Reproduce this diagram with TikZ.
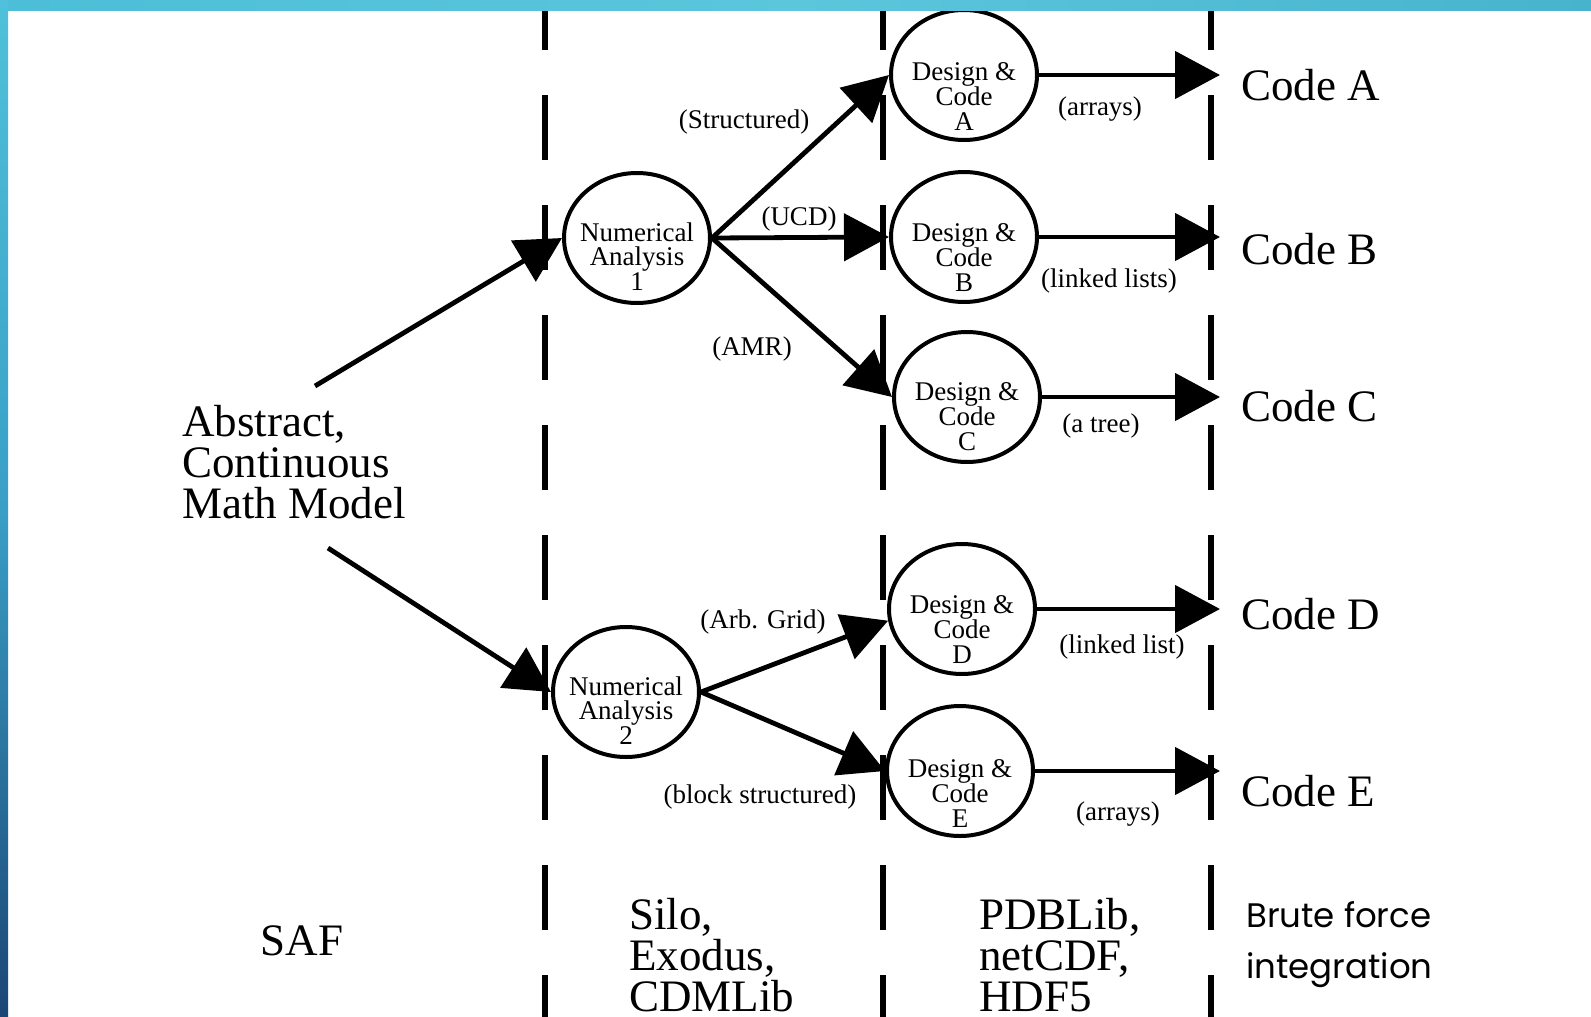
\documentclass[tikz,border=0pt]{standalone}
\usepackage{fontspec}
\setmainfont{Liberation Serif}
\newfontfamily\gothic{Poppins}
\usetikzlibrary{arrows.meta,shapes.geometric}
\definecolor{topL}{HTML}{4DBED8}
\definecolor{topM}{HTML}{5BC6DC}
\definecolor{topR}{HTML}{48B3CD}
\definecolor{sideT}{HTML}{4FC1DA}
\definecolor{sideM}{HTML}{3A9FC6}
\definecolor{sideB}{HTML}{1B4676}
\newcommand\mlines[2]{\parbox[t]{#1}{#2}}
\begin{document}
\begin{tikzpicture}[x=1pt,y=-1pt,
  bubble/.style={ellipse,draw,line width=4pt,minimum width=146pt,minimum height=130pt,inner sep=0pt},
  btext/.style={anchor=base,inner sep=0pt,font=\fontsize{27}{24.5}\selectfont},
  elabel/.style={anchor=base,inner sep=0pt,font=\fontsize{27}{30}\selectfont},
  bigtext/.style={inner sep=0pt,font=\fontsize{45}{41}\selectfont},
  conn/.style={line width=4.8pt,-{Triangle[length=45pt,width=47pt]}},
  sepline/.style={line width=6pt,dash pattern=on 65pt off 45pt}]
\useasboundingbox (0,0) rectangle (1591,1017);
\fill[white] (0,0) rectangle (1591,1017);

% dashed separators
\draw[sepline] (545,-15) -- (545,1030);
\draw[sepline] (883,-15) -- (883,1030);
\draw[sepline] (1211,-15) -- (1211,1030);

% ellipses
\node[bubble] (NA1) at (637,238) {};
\node[bubble] (NA2) at (626,692) {};
\node[bubble] (A) at (964,75) {};
\node[bubble] (B) at (964,237) {};
\node[bubble] (C) at (967,397) {};
\node[bubble] (D) at (962,609) {};
\node[bubble] (E) at (960,771) {};

% texts in ellipses
\node[btext] (tNA1) at (637,241) {\mlines{200pt}{\centering Numerical\\Analysis\\1}};
\node[btext] (tNA2) at (626,695) {\mlines{200pt}{\centering Numerical\\Analysis\\2}};
\node[btext] (tA) at (964,80) {\mlines{200pt}{\centering Design \&\\Code\\A}};
\node[btext] (tB) at (964,241) {\mlines{200pt}{\centering Design \&\\Code\\B}};
\node[btext] (tC) at (967,400) {\mlines{200pt}{\centering Design \&\\Code\\C}};
\node[btext] (tD) at (962,613) {\mlines{200pt}{\centering Design \&\\Code\\D}};
\node[btext] (tE) at (960,777) {\mlines{200pt}{\centering Design \&\\Code\\E}};

% free ends
\coordinate (m1) at (315,386);
\coordinate (m2) at (328,548);
\coordinate (eA) at (1220,75);
\coordinate (eB) at (1220,237);
\coordinate (eC) at (1220,397);
\coordinate (eD) at (1220,609);
\coordinate (eE) at (1220,771);

% connectors
\draw[conn] (m1) -- (NA1.west);
\draw[conn] (m2) -- (NA2.west);
\draw[conn] (NA1.east) -- (A.west);
\draw[conn] (NA1.east) -- (B.west);
\draw[conn] (NA1.east) -- (C.west);
\draw[conn] (NA2.east) -- (D.189);
\draw[conn] (NA2.east) -- (E.west);
\draw[conn] (A) -- (eA);
\draw[conn] (B) -- (eB);
\draw[conn] (C) -- (eC);
\draw[conn] (D) -- (eD);
\draw[conn] (E) -- (eE);

% edge labels
\node[elabel] (lS) at (744,128) {(Structured)};
\node[elabel] (lU) at (799,225) {(UCD)};
\node[elabel] (lM) at (752,355) {(AMR)};
\node[elabel] (lG) at (763,628) {(Arb. Grid)};
\node[elabel] (lBS) at (760,803) {(block structured)};
\node[elabel] (lA1) at (1100,115) {(arrays)};
\node[elabel] (lLL) at (1109,287) {(linked lists)};
\node[elabel] (lT) at (1101,432) {(a tree)};
\node[elabel] (lL) at (1122,653) {(linked list)};
\node[elabel] (lA2) at (1118,820) {(arrays)};

% code labels
\node[bigtext,anchor=base west] (cA) at (1241,100) {Code A};
\node[bigtext,anchor=base west] (cB) at (1241,264) {Code B};
\node[bigtext,anchor=base west] (cC) at (1241,421) {Code C};
\node[bigtext,anchor=base west] (cD) at (1241,629) {Code D};
\node[bigtext,anchor=base west] (cE) at (1241,806) {Code E};

% big texts
\node[bigtext,anchor=base west] (abs) at (182,436) {\mlines{400pt}{\raggedright Abstract,\\Continuous\\Math Model}};
\node[bigtext,anchor=base] (saf) at (302,955) {SAF};
\node[bigtext,anchor=base west] (silo) at (629,929) {\mlines{300pt}{\raggedright Silo,\\Exodus,\\CDMLib}};
\node[bigtext,anchor=base west] (pdb) at (979,929) {\mlines{300pt}{\raggedright PDBLib,\\netCDF,\\HDF5}};
\node[inner sep=0pt,anchor=base west,font=\gothic\fontsize{34}{51}\selectfont] (brute) at (1246,927) {\mlines{340pt}{\raggedright Brute force\\integration}};

% frame bars
\shade[left color=topL,right color=topR,middle color=topM] (0,0) rectangle (1591,10);
\shade[top color=sideT,bottom color=sideB,middle color=sideM] (0,0) rectangle (8,1017);
\end{tikzpicture}
\end{document}
